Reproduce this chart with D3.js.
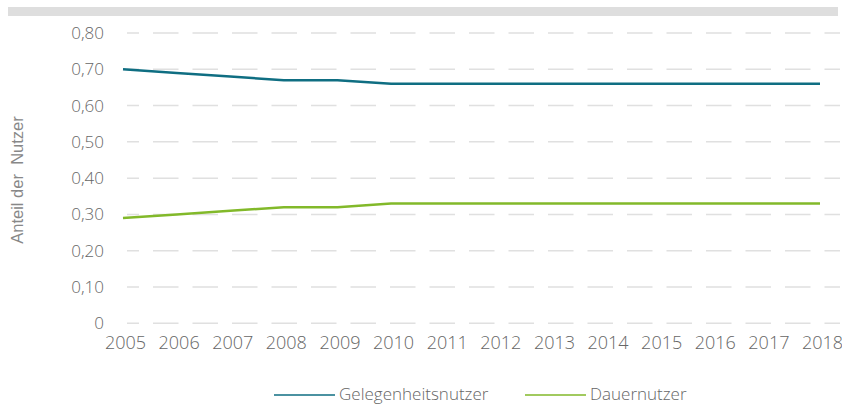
<!DOCTYPE html>
<html>
<head>
<meta charset="utf-8">
<script src="https://cdn.jsdelivr.net/npm/d3@7"></script>
<style>
  body { margin: 0; background: #fff; }
  svg { display: block; }
  .tick text { font-family: "Open Sans", sans-serif; font-weight: 300; fill: #666; }
</style>
</head>
<body>
<svg id="chart" width="842" height="404"></svg>
<script>
// chart data
const years = [2005, 2006, 2007, 2008, 2009, 2010, 2011, 2012, 2013, 2014, 2015, 2016, 2017, 2018];
const gelegenheit = [0.70, 0.69, 0.68, 0.67, 0.67, 0.66, 0.66, 0.66, 0.66, 0.66, 0.66, 0.66, 0.66, 0.66];
const dauer = [0.29, 0.30, 0.31, 0.32, 0.32, 0.33, 0.33, 0.33, 0.33, 0.33, 0.33, 0.33, 0.33, 0.33];
const yTicks = [0, 0.1, 0.2, 0.3, 0.4, 0.5, 0.6, 0.7, 0.8];
const seriesNames = ['Gelegenheitsnutzer', 'Dauernutzer'];
const seriesColors = ['#0f6e82', '#82b92a'];

const svg = d3.select('#chart');

// grey band on top
svg.append('rect')
  .attr('x', 8).attr('y', 7)
  .attr('width', 830).attr('height', 9)
  .attr('fill', '#dedede');

const x = d3.scalePoint().domain(years).range([123, 820]);
const y = d3.scaleLinear().domain([0, 0.8]).range([323.3, 33]);

// dashed gridlines
svg.append('g')
  .selectAll('line')
  .data(yTicks)
  .join('line')
  .attr('x1', 127).attr('x2', 840)
  .attr('y1', (d) => y(d)).attr('y2', (d) => y(d))
  .attr('stroke', '#e0e0e0')
  .attr('stroke-width', 1.5)
  .attr('stroke-dasharray', '25.5,14')
  .attr('stroke-dashoffset', 13.5);

// y axis labels
const fmt = (d) => (d === 0 ? '0' : d3.format('.2f')(d).replace('.', ','));
svg.append('g')
  .attr('transform', 'translate(104,0)')
  .call(d3.axisLeft(y).tickValues(yTicks).tickFormat(fmt).tickSize(0).tickPadding(0))
  .call((g) => g.select('.domain').remove())
  .call((g) => g.selectAll('text').attr('font-size', 17));

// x axis labels
svg.append('g')
  .attr('transform', 'translate(2,333)')
  .call(d3.axisBottom(x).tickSize(0).tickPadding(3))
  .call((g) => g.select('.domain').remove())
  .call((g) => g.selectAll('text').attr('font-size', 18));

// y title
svg.append('text')
  .attr('transform', 'translate(23,180) rotate(-90)')
  .attr('text-anchor', 'middle')
  .attr('font-family', '"Liberation Sans", Arial, sans-serif')
  .attr('font-size', 16.5)
  .attr('fill', '#888')
  .attr('xml:space', 'preserve')
  .text('Anteil der  Nutzer');

// lines
const line = d3.line().x((d, i) => x(years[i])).y((d) => y(d));
[gelegenheit, dauer].forEach((vals, i) => {
  svg.append('path')
    .datum(vals)
    .attr('d', line)
    .attr('fill', 'none')
    .attr('stroke', seriesColors[i])
    .attr('stroke-width', 2.5);
});

// legend
const legendX = [274, 525];
seriesNames.forEach((name, i) => {
  const g = svg.append('g').attr('transform', `translate(${legendX[i]},395)`);
  g.append('line')
    .attr('x1', 0).attr('x2', 61)
    .attr('stroke', seriesColors[i])
    .attr('stroke-width', 1.5);
  g.append('text')
    .attr('x', 65).attr('y', 5)
    .attr('font-family', '"Open Sans", sans-serif')
    .attr('font-weight', 300)
    .attr('font-size', 17)
    .attr('fill', '#666')
    .text(name);
});
</script>
</body>
</html>
